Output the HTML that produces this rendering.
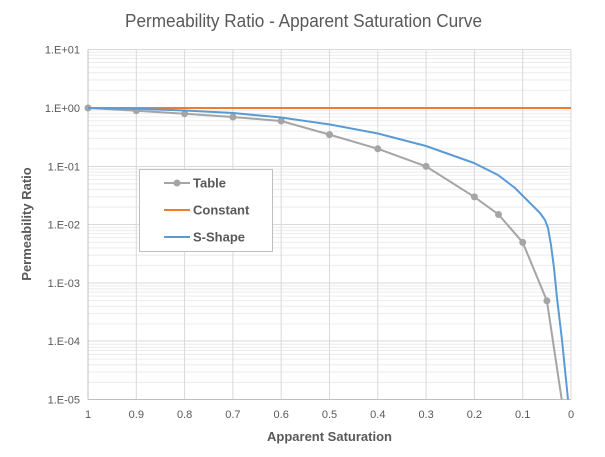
<!DOCTYPE html>
<html><head><meta charset="utf-8"><style>
html,body{margin:0;padding:0;background:#fff;}
svg{display:block;font-family:"Liberation Sans",sans-serif;}
</style></head><body>
<svg width="605" height="457" viewBox="0 0 605 457" xmlns="http://www.w3.org/2000/svg">
<defs>
<pattern id="mn" patternUnits="userSpaceOnUse" x="88" y="49.5" width="483" height="58.4">
<g stroke="#ececec" stroke-width="1">
<line x1="0" x2="483" y1="2.7" y2="2.7"/><line x1="0" x2="483" y1="5.7" y2="5.7"/>
<line x1="0" x2="483" y1="9" y2="9"/><line x1="0" x2="483" y1="13" y2="13"/>
<line x1="0" x2="483" y1="17.6" y2="17.6"/><line x1="0" x2="483" y1="23.2" y2="23.2"/>
<line x1="0" x2="483" y1="30.5" y2="30.5"/><line x1="0" x2="483" y1="40.8" y2="40.8"/>
</g></pattern>
</defs>
<text x="125" y="27" font-size="18" fill="#595959" textLength="357" lengthAdjust="spacingAndGlyphs">Permeability Ratio - Apparent Saturation Curve</text>
<rect x="88" y="49.5" width="483" height="350" fill="url(#mn)"/>
<g stroke="#d9d9d9" stroke-width="1">
<line x1="88" x2="571" y1="49.5" y2="49.5"/><line x1="88" x2="571" y1="108" y2="108"/>
<line x1="88" x2="571" y1="166.5" y2="166.5"/><line x1="88" x2="571" y1="224.5" y2="224.5"/>
<line x1="88" x2="571" y1="283" y2="283"/><line x1="88" x2="571" y1="341" y2="341"/>
<line x1="136.3" x2="136.3" y1="49.5" y2="399.5"/><line x1="184.6" x2="184.6" y1="49.5" y2="399.5"/>
<line x1="232.9" x2="232.9" y1="49.5" y2="399.5"/><line x1="281.2" x2="281.2" y1="49.5" y2="399.5"/>
<line x1="329.5" x2="329.5" y1="49.5" y2="399.5"/><line x1="377.8" x2="377.8" y1="49.5" y2="399.5"/>
<line x1="426.1" x2="426.1" y1="49.5" y2="399.5"/><line x1="474.4" x2="474.4" y1="49.5" y2="399.5"/>
<line x1="522.7" x2="522.7" y1="49.5" y2="399.5"/><line x1="571" x2="571" y1="49.5" y2="399.5"/>
</g>
<g stroke="#bfbfbf" stroke-width="1">
<line x1="88" x2="88" y1="49.5" y2="399.5"/><line x1="88" x2="571" y1="399.5" y2="399.5"/>
</g>
<g font-size="11" fill="#595959" text-anchor="end">
<text x="80" y="53.5">1.E+01</text><text x="80" y="112">1.E+00</text>
<text x="80" y="170.5">1.E-01</text><text x="80" y="228.5">1.E-02</text>
<text x="80" y="287">1.E-03</text><text x="80" y="345">1.E-04</text><text x="80" y="403.5">1.E-05</text>
</g>
<g font-size="11" fill="#595959" text-anchor="middle">
<text x="88" y="418">1</text><text x="136.3" y="418">0.9</text><text x="184.6" y="418">0.8</text>
<text x="232.9" y="418">0.7</text><text x="281.2" y="418">0.6</text><text x="329.5" y="418">0.5</text>
<text x="377.8" y="418">0.4</text><text x="426.1" y="418">0.3</text><text x="474.4" y="418">0.2</text>
<text x="522.7" y="418">0.1</text><text x="571" y="418">0</text>
</g>
<text x="329.5" y="441" text-anchor="middle" font-size="13" font-weight="bold" fill="#595959">Apparent Saturation</text>
<text transform="translate(31,224) rotate(-90)" text-anchor="middle" font-size="13" font-weight="bold" fill="#595959">Permeability Ratio</text>
<line x1="88" x2="571" y1="108" y2="108" stroke="#ed7d31" stroke-width="2"/>
<polyline fill="none" stroke="#a5a5a5" stroke-width="2" points="88,108 136.3,110.7 184.6,113.7 232.9,117 281.2,121 329.5,134.6 377.8,148.8 426.1,166.4 474.4,196.9 498.5,214.5 522.7,242.4 546.9,300.8 561.7,399.5"/>
<g fill="#a5a5a5">
<circle cx="88" cy="108" r="3.5"/><circle cx="136.3" cy="110.7" r="3.5"/><circle cx="184.6" cy="113.7" r="3.5"/>
<circle cx="232.9" cy="117" r="3.5"/><circle cx="281.2" cy="121" r="3.5"/><circle cx="329.5" cy="134.6" r="3.5"/>
<circle cx="377.8" cy="148.8" r="3.5"/><circle cx="426.1" cy="166.4" r="3.5"/><circle cx="474.4" cy="196.9" r="3.5"/>
<circle cx="498.5" cy="214.5" r="3.5"/><circle cx="522.7" cy="242.4" r="3.5"/><circle cx="546.9" cy="300.8" r="3.5"/>
</g>
<polyline fill="none" stroke="#5b9bd5" stroke-width="2" stroke-linejoin="round" points="88,108 136,108.8 185,110.5 233,113 281,117.5 330,124.5 378,133.5 426,146 474,163 498,175 515,188 523,196 532,205 540,213 545,220 548,228 551,245 554,268 557,298 562,340 568,399.5"/>
<rect x="139.5" y="169.5" width="133" height="82" fill="#fff" stroke="#bfbfbf" stroke-width="1"/>
<line x1="164" x2="190" y1="183" y2="183" stroke="#a5a5a5" stroke-width="2"/>
<circle cx="177" cy="183" r="3.5" fill="#a5a5a5"/>
<line x1="164" x2="190" y1="210" y2="210" stroke="#ed7d31" stroke-width="2"/>
<line x1="164" x2="190" y1="237" y2="237" stroke="#5b9bd5" stroke-width="2"/>
<g font-size="13" font-weight="bold" fill="#595959">
<text x="193" y="187.5">Table</text><text x="193" y="214.5">Constant</text><text x="193" y="241.5">S-Shape</text>
</g>
</svg>
</body></html>
